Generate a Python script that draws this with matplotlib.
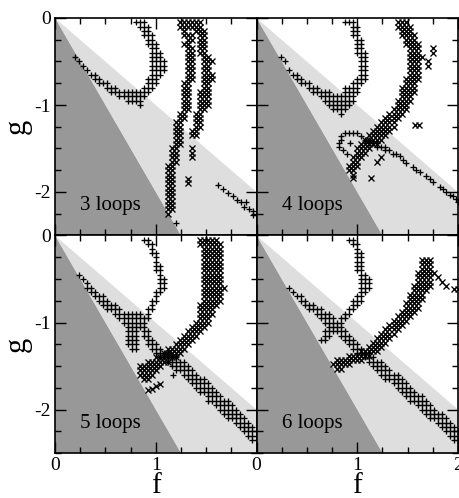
import matplotlib
matplotlib.use("Agg")
import matplotlib.pyplot as plt
from matplotlib.ticker import MultipleLocator
import numpy as np

plt.rcParams['font.family'] = ['Liberation Serif', 'DejaVu Serif']
plt.rcParams['axes.unicode_minus'] = False

# axis ranges and boundary lines of the shaded regions (g = slope * f)
F_LIM = (0, 2)
G_LIM = (-2.5, 0)
LIGHT_SLOPE = -1.0
DARK_SLOPE = -2.0
DARK = '#989898'
LIGHT = '#dedede'

LABELS = ['3 loops', '4 loops', '5 loops', '6 loops']

# scan points, stored row by row: (g, [f values])
PLUS_3 = [
    (-0.05, [0.80, 0.84, 0.88]),
    (-0.10, [0.84, 0.88, 0.92]),
    (-0.15, [0.88, 0.92]),
    (-0.20, [0.88, 0.92, 0.96]),
    (-0.25, [0.92, 0.96]),
    (-0.30, [0.92, 0.96, 1.00]),
    (-0.35, [0.96, 1.00]),
    (-0.40, [0.96, 1.00, 1.04]),
    (-0.45, [0.20, 0.96, 1.00, 1.04]),
    (-0.50, [0.24, 0.96, 1.00, 1.04, 1.08]),
    (-0.55, [0.28, 0.96, 1.00, 1.04, 1.08]),
    (-0.60, [0.32, 0.96, 1.00, 1.04, 1.08]),
    (-0.65, [0.36, 0.40, 0.96, 1.00, 1.04]),
    (-0.70, [0.40, 0.44, 0.92, 0.96, 1.00]),
    (-0.75, [0.44, 0.48, 0.52, 0.92, 0.96, 1.00]),
    (-0.80, [0.52, 0.56, 0.60, 0.88, 0.92, 0.96]),
    (-0.85, [0.56, 0.60, 0.64, 0.68, 0.72, 0.76, 0.80, 0.84, 0.88, 0.92]),
    (-0.90, [0.64, 0.68, 0.72, 0.76, 0.80, 0.84, 0.88]),
    (-0.95, [0.72, 0.76, 0.80, 0.84]),
    (-1.00, [0.84]),
    (-1.92, [1.62]), (-1.96, [1.67]), (-2.01, [1.72]), (-2.05, [1.77]),
    (-2.09, [1.81]), (-2.12, [1.85, 1.90]), (-2.17, [1.88]), (-2.19, [1.93]),
    (-2.22, [1.97]), (-2.26, [1.97, 2.00]), (-2.36, [1.20]),
]

CROSS_3 = [
    (-0.05, [1.24, 1.28, 1.32, 1.36, 1.40, 1.44]),
    (-0.10, [1.24, 1.28, 1.32, 1.36, 1.40, 1.44]),
    (-0.15, [1.28, 1.40, 1.44, 1.48]),
    (-0.20, [1.28, 1.32, 1.36, 1.44, 1.48]),
    (-0.25, [1.32, 1.36, 1.44, 1.48]),
    (-0.30, [1.28, 1.32, 1.44, 1.48]),
    (-0.35, [1.32, 1.36, 1.44, 1.48]),
    (-0.40, [1.32, 1.36, 1.44, 1.48]),
    (-0.45, [1.32, 1.36, 1.48, 1.52]),
    (-0.50, [1.32, 1.36, 1.48, 1.52, 1.56]),
    (-0.55, [1.32, 1.36, 1.48, 1.52]),
    (-0.60, [1.32, 1.36, 1.48, 1.52]),
    (-0.65, [1.32, 1.36, 1.48, 1.52, 1.56]),
    (-0.70, [1.32, 1.36, 1.48, 1.52, 1.56]),
    (-0.75, [1.28, 1.32, 1.48, 1.52]),
    (-0.80, [1.28, 1.32, 1.48, 1.52]),
    (-0.85, [1.28, 1.32, 1.44, 1.48, 1.52]),
    (-0.90, [1.28, 1.32, 1.44, 1.48, 1.52]),
    (-0.95, [1.28, 1.32, 1.44, 1.48, 1.52]),
    (-1.00, [1.28, 1.32, 1.44, 1.48, 1.52]),
    (-1.05, [1.28, 1.32, 1.44, 1.48]),
    (-1.10, [1.24, 1.28, 1.40, 1.44]),
    (-1.15, [1.24, 1.28, 1.40, 1.44]),
    (-1.20, [1.20, 1.24, 1.40, 1.44]),
    (-1.25, [1.20, 1.24, 1.40, 1.44]),
    (-1.30, [1.20, 1.24, 1.36, 1.40]),
    (-1.35, [1.20, 1.24, 1.36, 1.40]),
    (-1.40, [1.20, 1.24]),
    (-1.45, [1.20, 1.24]),
    (-1.50, [1.16, 1.20, 1.36]),
    (-1.55, [1.16, 1.20, 1.36]),
    (-1.60, [1.16, 1.20, 1.36]),
    (-1.65, [1.16, 1.20]),
    (-1.70, [1.12, 1.16]),
    (-1.75, [1.12, 1.16]),
    (-1.80, [1.12, 1.16]),
    (-1.85, [1.12, 1.16, 1.32]),
    (-1.90, [1.12, 1.16, 1.32]),
    (-1.95, [1.12, 1.16]),
    (-2.00, [1.12, 1.16]),
    (-2.05, [1.12, 1.16]),
    (-2.10, [1.12, 1.16]),
    (-2.15, [1.12, 1.16]),
    (-2.20, [1.12, 1.16]),
    (-2.25, [1.12]),
]

PLUS_4 = [
    (-0.05, [0.88, 0.92, 0.96]),
    (-0.10, [0.96, 1.00]),
    (-0.15, [0.96, 1.00]),
    (-0.20, [0.96, 1.00]),
    (-0.25, [1.00, 1.04]),
    (-0.30, [1.00, 1.04]),
    (-0.35, [1.00, 1.04]),
    (-0.40, [1.00, 1.04, 1.08]),
    (-0.45, [0.24, 1.04, 1.08]),
    (-0.50, [0.28, 1.04, 1.08]),
    (-0.55, [1.04, 1.08]),
    (-0.60, [0.32, 1.04, 1.08]),
    (-0.65, [0.36, 0.40, 1.04, 1.08]),
    (-0.70, [0.40, 0.44, 1.00, 1.04, 1.08]),
    (-0.75, [0.44, 0.48, 0.52, 0.96, 1.00, 1.04]),
    (-0.80, [0.52, 0.56, 0.60, 0.88, 0.92, 0.96, 1.00]),
    (-0.85, [0.56, 0.60, 0.64, 0.68, 0.72, 0.88, 0.92, 0.96, 1.00]),
    (-0.90, [0.64, 0.68, 0.72, 0.76, 0.80, 0.84, 0.88, 0.92, 0.96]),
    (-0.95, [0.68, 0.72, 0.76, 0.80, 0.84, 0.88, 0.92, 0.96]),
    (-1.00, [0.72, 0.76, 0.80, 0.84, 0.88, 0.92]),
    (-1.05, [0.76, 0.80, 0.84, 0.88]),
    (-1.10, [0.84]),
    (-1.32, [0.88, 0.92, 0.96, 1.00]),
    (-1.36, [0.84, 1.04]),
    (-1.40, [0.84, 1.08, 1.12]),
    (-1.44, [0.82, 0.93, 1.12, 1.16, 1.20]),
    (-1.48, [0.82, 1.20, 1.24, 1.28]),
    (-1.52, [0.86, 1.28, 1.32]),
    (-1.56, [0.90, 1.35, 1.38]),
    (-1.59, [1.42]), (-1.63, [1.45]), (-1.67, [1.48]), (-1.71, [1.55]),
    (-1.75, [1.58]), (-1.77, [1.62]), (-1.82, [1.68]), (-1.85, [1.72]),
    (-1.88, [1.75]), (-1.94, [1.82]), (-1.97, [1.85]), (-2.00, [1.88]),
    (-2.04, [1.92]), (-2.05, [1.95]), (-2.08, [1.98]), (-2.11, [2.00]),
]

CROSS_4 = [
    (-0.05, [1.40, 1.44, 1.48]),
    (-0.10, [1.40, 1.44, 1.48, 1.52]),
    (-0.15, [1.44, 1.48, 1.52]),
    (-0.20, [1.44, 1.48, 1.52, 1.56]),
    (-0.25, [1.48, 1.52, 1.56]),
    (-0.30, [1.48, 1.52, 1.56, 1.60]),
    (-0.35, [1.52, 1.56, 1.60, 1.75]),
    (-0.40, [1.52, 1.56, 1.60, 1.75]),
    (-0.45, [1.52, 1.56, 1.60, 1.64]),
    (-0.50, [1.52, 1.56, 1.60, 1.70]),
    (-0.55, [1.52, 1.56, 1.60, 1.70]),
    (-0.60, [1.52, 1.56, 1.60]),
    (-0.65, [1.52, 1.56, 1.60]),
    (-0.70, [1.48, 1.52, 1.56, 1.60]),
    (-0.75, [1.48, 1.52, 1.56]),
    (-0.80, [1.44, 1.48, 1.52, 1.56]),
    (-0.85, [1.44, 1.48, 1.52, 1.56]),
    (-0.90, [1.44, 1.48, 1.52]),
    (-0.95, [1.40, 1.44, 1.48, 1.52]),
    (-1.00, [1.40, 1.44, 1.48]),
    (-1.05, [1.36, 1.40, 1.44, 1.48]),
    (-1.10, [1.32, 1.36, 1.40, 1.44]),
    (-1.15, [1.28, 1.32, 1.36, 1.40]),
    (-1.20, [1.24, 1.28, 1.32, 1.36]),
    (-1.23, [1.57, 1.61]),
    (-1.25, [1.20, 1.24, 1.28, 1.32, 1.36]),
    (-1.30, [1.16, 1.20, 1.24, 1.28, 1.32]),
    (-1.35, [1.12, 1.16, 1.20, 1.24, 1.28]),
    (-1.40, [1.08, 1.12, 1.16, 1.20, 1.24]),
    (-1.45, [1.04, 1.08, 1.12, 1.16, 1.20]),
    (-1.50, [1.00, 1.04, 1.08, 1.12]),
    (-1.55, [1.00, 1.04, 1.08]),
    (-1.60, [0.96, 1.00, 1.04, 1.24]),
    (-1.65, [0.96, 1.00, 1.20]),
    (-1.70, [0.92, 0.96, 1.00]),
    (-1.75, [0.92, 0.96]),
    (-1.80, [0.96]),
    (-1.84, [0.96, 1.14]),
]

PLUS_5 = [
    (-0.05, [0.88, 0.92]),
    (-0.10, [0.92, 0.96]),
    (-0.15, [0.96]),
    (-0.20, [0.96, 1.00]),
    (-0.25, [1.00]),
    (-0.30, [1.00]),
    (-0.35, [1.00, 1.04]),
    (-0.40, [1.00, 1.04]),
    (-0.45, [0.24, 1.04]),
    (-0.50, [0.28, 1.04, 1.08]),
    (-0.55, [0.32, 1.04, 1.08]),
    (-0.60, [0.32, 0.36, 1.04, 1.08]),
    (-0.65, [0.36, 0.40, 1.00, 1.04]),
    (-0.70, [0.40, 0.44, 0.48, 1.00]),
    (-0.75, [0.44, 0.48, 0.52, 0.96, 1.00]),
    (-0.80, [0.48, 0.52, 0.56, 0.60, 0.96]),
    (-0.85, [0.52, 0.56, 0.60, 0.64, 0.92, 0.96]),
    (-0.90, [0.60, 0.64, 0.68, 0.72, 0.76, 0.80, 0.84, 0.92]),
    (-0.95, [0.64, 0.68, 0.72, 0.76, 0.80, 0.84, 0.88, 0.92]),
    (-1.00, [0.68, 0.72, 0.76, 0.80, 0.84, 0.88]),
    (-1.05, [0.72, 0.76, 0.80, 0.84, 0.88]),
    (-1.10, [0.72, 0.76, 0.80, 0.88, 0.92]),
    (-1.15, [0.72, 0.76, 0.80, 0.88, 0.92]),
    (-1.20, [0.72, 0.76, 0.80, 0.92, 0.96]),
    (-1.25, [0.72, 0.76, 0.80, 0.92, 0.96, 1.00]),
    (-1.30, [0.76, 0.80, 0.96, 1.00, 1.04]),
    (-1.35, [1.00, 1.04, 1.08, 1.12]),
    (-1.40, [1.04, 1.08, 1.12, 1.16, 1.20]),
    (-1.45, [1.12, 1.16, 1.20, 1.24, 1.28]),
    (-1.50, [1.16, 1.20, 1.24, 1.28, 1.32]),
    (-1.55, [1.20, 1.24, 1.28, 1.32, 1.36]),
    (-1.60, [1.17, 1.28, 1.32, 1.36, 1.40]),
    (-1.65, [1.32, 1.36, 1.40, 1.44, 1.48]),
    (-1.70, [1.36, 1.40, 1.44, 1.48, 1.52]),
    (-1.75, [1.40, 1.44, 1.48, 1.52, 1.56]),
    (-1.80, [1.44, 1.48, 1.52, 1.56, 1.60]),
    (-1.85, [1.52, 1.56, 1.60, 1.64]),
    (-1.90, [1.52, 1.56, 1.60, 1.64, 1.68, 1.72]),
    (-1.95, [1.60, 1.64, 1.68, 1.72, 1.76]),
    (-2.00, [1.64, 1.68, 1.72, 1.76, 1.80]),
    (-2.05, [1.68, 1.72, 1.76, 1.80, 1.84]),
    (-2.10, [1.72, 1.76, 1.80, 1.84, 1.88]),
    (-2.15, [1.80, 1.84, 1.88, 1.92]),
    (-2.20, [1.84, 1.88, 1.92, 1.96]),
    (-2.25, [1.88, 1.92, 1.96, 2.00]),
    (-2.30, [1.92, 1.96, 2.00]),
    (-2.35, [1.96, 2.00]),
]

CROSS_5 = [
    (-0.05, [1.44, 1.48, 1.52, 1.56, 1.60]),
    (-0.10, [1.44, 1.48, 1.52, 1.56, 1.60, 1.64]),
    (-0.15, [1.48, 1.52, 1.56, 1.60, 1.64]),
    (-0.20, [1.48, 1.52, 1.56, 1.60, 1.64]),
    (-0.25, [1.48, 1.52, 1.56, 1.60, 1.64]),
    (-0.30, [1.48, 1.52, 1.56, 1.60, 1.64]),
    (-0.35, [1.48, 1.52, 1.56, 1.60, 1.64]),
    (-0.40, [1.48, 1.52, 1.56, 1.60, 1.64]),
    (-0.45, [1.48, 1.52, 1.56, 1.60, 1.64]),
    (-0.50, [1.48, 1.52, 1.56, 1.60, 1.64]),
    (-0.55, [1.48, 1.52, 1.56, 1.60, 1.64]),
    (-0.60, [1.48, 1.52, 1.56, 1.60, 1.64, 1.68]),
    (-0.65, [1.48, 1.52, 1.56, 1.60, 1.64]),
    (-0.70, [1.48, 1.52, 1.56, 1.60, 1.64]),
    (-0.75, [1.48, 1.52, 1.56, 1.60, 1.64]),
    (-0.80, [1.44, 1.48, 1.52, 1.56, 1.60]),
    (-0.85, [1.44, 1.48, 1.52, 1.56]),
    (-0.90, [1.44, 1.48, 1.52, 1.56]),
    (-0.95, [1.44, 1.48, 1.52]),
    (-1.00, [1.40, 1.44, 1.48, 1.52]),
    (-1.05, [1.36, 1.40, 1.44, 1.48]),
    (-1.10, [1.32, 1.36, 1.40, 1.44]),
    (-1.15, [1.28, 1.32, 1.36, 1.40]),
    (-1.20, [1.24, 1.28, 1.32, 1.36]),
    (-1.25, [1.20, 1.24, 1.28, 1.32]),
    (-1.30, [1.12, 1.16, 1.20, 1.24, 1.28]),
    (-1.35, [1.08, 1.12, 1.16, 1.20, 1.24]),
    (-1.40, [1.00, 1.04, 1.08, 1.12, 1.16, 1.20]),
    (-1.45, [0.92, 0.96, 1.00, 1.04, 1.08, 1.12]),
    (-1.50, [0.84, 0.88, 0.92, 0.96, 1.00, 1.04]),
    (-1.55, [0.84, 0.88, 0.92, 0.96, 1.00]),
    (-1.60, [0.84, 0.88, 0.92, 0.96]),
    (-1.65, [0.88, 0.92]),
    (-1.71, [1.04]), (-1.73, [1.00]), (-1.76, [0.96]), (-1.78, [0.92]),
]

PLUS_6 = [
    (-0.05, [0.92, 0.96]),
    (-0.10, [0.96, 1.00]),
    (-0.15, [1.00]),
    (-0.20, [1.00, 1.04]),
    (-0.25, [1.00, 1.04]),
    (-0.30, [1.00, 1.04]),
    (-0.35, [1.00, 1.04]),
    (-0.40, [1.00, 1.04]),
    (-0.45, [1.04, 1.08]),
    (-0.50, [1.04, 1.08, 1.12]),
    (-0.55, [1.04, 1.08, 1.12]),
    (-0.60, [0.32, 1.04, 1.08, 1.12]),
    (-0.65, [0.36, 1.04, 1.08]),
    (-0.70, [0.40, 0.44, 1.00, 1.04]),
    (-0.75, [0.44, 0.48, 0.96, 1.00, 1.04]),
    (-0.80, [0.48, 0.52, 0.56, 0.96, 1.00]),
    (-0.85, [0.52, 0.56, 0.60, 0.64, 0.92, 0.96]),
    (-0.90, [0.60, 0.64, 0.68, 0.72, 0.88, 0.92]),
    (-0.95, [0.64, 0.68, 0.72, 0.76, 0.84, 0.88]),
    (-1.00, [0.68, 0.72, 0.76, 0.80, 0.84]),
    (-1.05, [0.72, 0.76, 0.80, 0.84]),
    (-1.10, [0.68, 0.72, 0.76, 0.80, 0.84, 0.88]),
    (-1.15, [0.68, 0.72, 0.84, 0.88, 0.92]),
    (-1.20, [0.64, 0.68, 0.88, 0.92, 0.96]),
    (-1.25, [0.92, 0.96, 1.00]),
    (-1.30, [0.96, 1.00, 1.04]),
    (-1.35, [1.00, 1.04, 1.08, 1.12]),
    (-1.40, [1.08, 1.12, 1.16]),
    (-1.45, [1.12, 1.16, 1.20, 1.24]),
    (-1.50, [1.16, 1.20, 1.24, 1.28]),
    (-1.55, [1.20, 1.24, 1.28, 1.32]),
    (-1.60, [1.24, 1.28, 1.32, 1.36, 1.40]),
    (-1.65, [1.28, 1.32, 1.36, 1.40, 1.44]),
    (-1.70, [1.36, 1.40, 1.44, 1.48]),
    (-1.75, [1.40, 1.44, 1.48, 1.52]),
    (-1.80, [1.44, 1.48, 1.52, 1.56]),
    (-1.85, [1.48, 1.52, 1.56, 1.60, 1.64]),
    (-1.90, [1.52, 1.56, 1.60, 1.64, 1.68]),
    (-1.95, [1.60, 1.64, 1.68, 1.72]),
    (-2.00, [1.64, 1.68, 1.72, 1.76]),
    (-2.05, [1.68, 1.72, 1.76, 1.80, 1.84]),
    (-2.10, [1.72, 1.76, 1.80, 1.84, 1.88]),
    (-2.15, [1.80, 1.84, 1.88, 1.92]),
    (-2.20, [1.84, 1.88, 1.92, 1.96]),
    (-2.25, [1.88, 1.92, 1.96, 2.00]),
    (-2.30, [1.92, 1.96, 2.00]),
    (-2.35, [1.96, 2.00]),
]

CROSS_6 = [
    (-0.28, [1.64, 1.68, 1.72]),
    (-0.33, [1.64, 1.68, 1.72]),
    (-0.38, [1.64, 1.68, 1.72]),
    (-0.43, [1.60, 1.64, 1.68, 1.72, 1.76]),
    (-0.48, [1.60, 1.64, 1.68, 1.72, 1.80]),
    (-0.53, [1.60, 1.64, 1.68, 1.72, 1.84]),
    (-0.58, [1.56, 1.60, 1.64, 1.68, 1.72, 1.88]),
    (-0.61, [1.96, 2.00]),
    (-0.63, [1.56, 1.60, 1.64, 1.68]),
    (-0.68, [1.52, 1.56, 1.60, 1.64]),
    (-0.73, [1.52, 1.56, 1.60, 1.64]),
    (-0.78, [1.48, 1.52, 1.56, 1.60]),
    (-0.83, [1.48, 1.52, 1.56, 1.60]),
    (-0.88, [1.44, 1.48, 1.52, 1.56]),
    (-0.93, [1.40, 1.44, 1.48, 1.52]),
    (-0.98, [1.36, 1.40, 1.44, 1.48]),
    (-1.03, [1.32, 1.36, 1.40, 1.44]),
    (-1.08, [1.28, 1.32, 1.36, 1.40]),
    (-1.13, [1.24, 1.28, 1.32, 1.36]),
    (-1.18, [1.20, 1.24, 1.28, 1.32]),
    (-1.23, [1.16, 1.20, 1.24, 1.28]),
    (-1.28, [1.12, 1.16, 1.20, 1.24]),
    (-1.33, [1.04, 1.08, 1.12, 1.16, 1.20]),
    (-1.38, [0.92, 0.96, 1.00, 1.04, 1.08, 1.12]),
    (-1.43, [0.80, 0.84, 0.88, 0.92, 0.96, 1.00, 1.04]),
    (-1.48, [0.76, 0.80, 0.84, 0.88, 0.92]),
    (-1.53, [0.80, 0.84]),
]

PANELS = [(PLUS_3, CROSS_3), (PLUS_4, CROSS_4), (PLUS_5, CROSS_5), (PLUS_6, CROSS_6)]


def flatten(rows):
    f = [x for g, fs in rows for x in fs]
    g = [g for g, fs in rows for x in fs]
    return f, g


fig = plt.figure(figsize=(4.59, 4.98), dpi=100)
gs = fig.add_gridspec(2, 2, left=55/459, right=458/459, top=1-18/498,
                      bottom=1-453/498, wspace=0, hspace=0)

fl = np.array(F_LIM, dtype=float)
for i, (plus, cross) in enumerate(PANELS):
    ax = fig.add_subplot(gs[i // 2, i % 2])
    ax.fill_between(fl, DARK_SLOPE * fl, LIGHT_SLOPE * fl, color=LIGHT, lw=0, zorder=0)
    ax.fill_between(fl, G_LIM[0] - 5, DARK_SLOPE * fl, color=DARK, lw=0, zorder=0)

    f, g = flatten(plus)
    ax.plot(f, g, ls='none', marker='+', ms=4.3, mew=0.95, color='k')
    f, g = flatten(cross)
    ax.plot(f, g, ls='none', marker='x', ms=3.7, mew=0.95, color='k')

    ax.text(0.25, -2.21, LABELS[i], fontsize=15, va='baseline')

    ax.set_xlim(F_LIM)
    ax.set_ylim(G_LIM)
    ax.xaxis.set_major_locator(MultipleLocator(1))
    ax.xaxis.set_minor_locator(MultipleLocator(0.25))
    ax.yaxis.set_major_locator(MultipleLocator(1))
    ax.yaxis.set_minor_locator(MultipleLocator(0.25))
    ax.tick_params(which='both', direction='in', top=True, right=True,
                   width=1, labelsize=14, pad=3)
    ax.tick_params(which='major', length=8)
    ax.tick_params(which='minor', length=4.5)
    for s in ax.spines.values():
        s.set_linewidth(1.2)

    if i % 2 == 0:
        ax.set_ylabel('g', fontsize=22, labelpad=2)
    else:
        ax.set_yticklabels([])
    if i // 2 == 1:
        ax.set_xlabel('f', fontsize=21, labelpad=-1)
        if i == 2:
            ax.set_xticks([0, 1, 2], ['0', '1', ''])
    else:
        ax.set_xticklabels([])

fig.savefig('out.png', dpi=100)
